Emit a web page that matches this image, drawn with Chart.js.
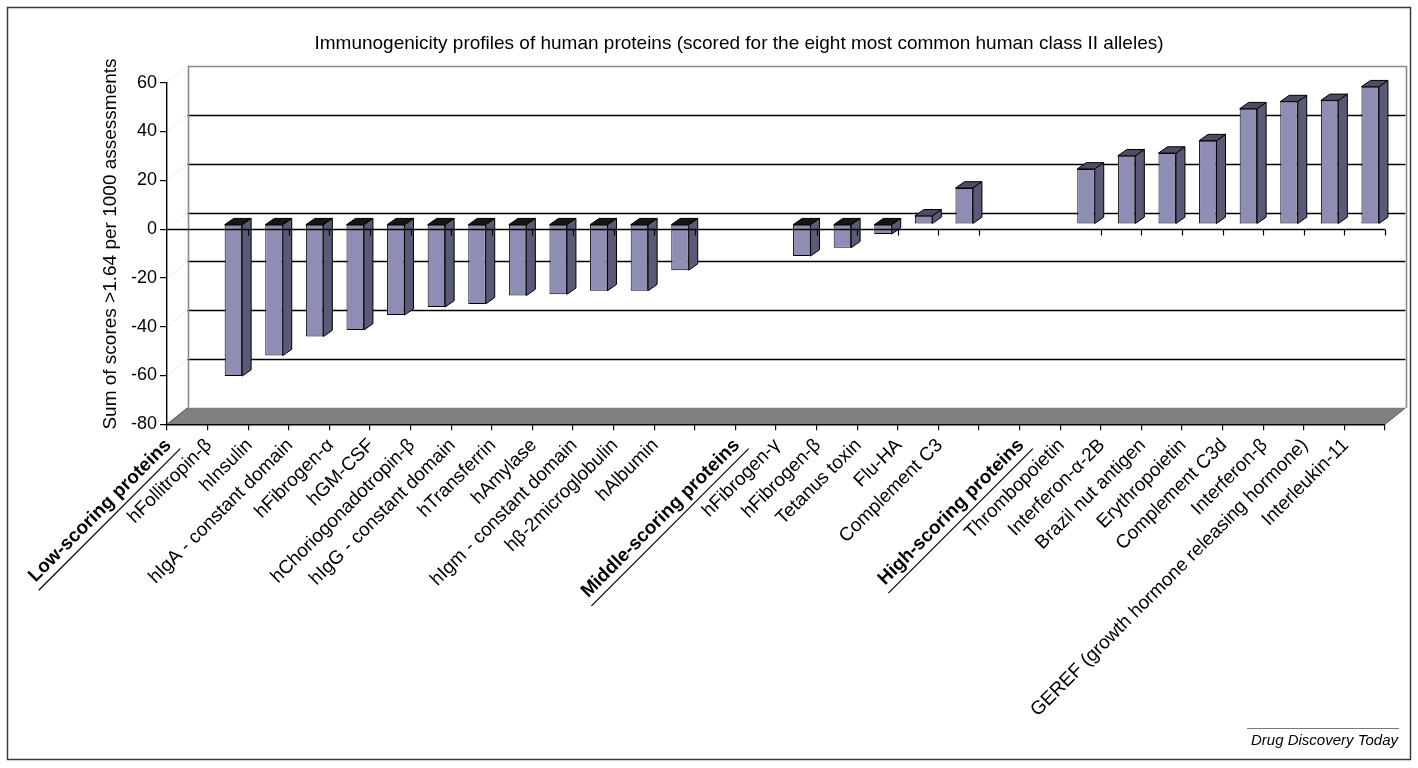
<!DOCTYPE html>
<html>
<head>
<meta charset="utf-8">
<title>Immunogenicity profiles of human proteins</title>
<script src="https://cdn.jsdelivr.net/npm/chart.js@4.4.1/dist/chart.umd.min.js"></script>
<style>
  html, body { margin: 0; padding: 0; background: #ffffff; }
  canvas { display: block; }
</style>
</head>
<body>
<canvas id="chart" width="1418" height="768"></canvas>
<script>
// ---- data -------------------------------------------------------------
const categories = [
  'Low-scoring proteins',
  'hFollitropin-β', 'hInsulin', 'hIgA - constant domain', 'hFibrogen-α', 'hGM-CSF',
  'hChoriogonadotropin-β', 'hIgG - constant domain', 'hTransferrin', 'hAmylase',
  'hIgm - constant domain', 'hβ-2microglobulin', 'hAlbumin',
  '',
  'Middle-scoring proteins',
  'hFibrogen-γ', 'hFibrogen-β', 'Tetanus toxin', 'Flu-HA', 'Complement C3',
  '',
  'High-scoring proteins',
  'Thrombopoietin', 'Interferon-α-2B', 'Brazil nut antigen', 'Erythropoietin',
  'Complement C3d', 'Interferon-β', 'GEREF (growth hormone releasing hormone)', 'Interleukin-11'
];

const lowScores    = [-62.3, -53.9, -46.1, -43.4, -37.3, -34.0, -32.7, -29.3, -28.8, -27.3, -27.3, -18.9];
const middleScores = [-13.1, -9.7, -4.1, 3.4, 14.8];
const highScores   = [22.6, 28.0, 29.1, 34.2, 47.3, 50.2, 50.7, 56.3];

const groupHeaders = ['Low-scoring proteins', 'Middle-scoring proteins', 'High-scoring proteins'];
const yTicks = [-80, -60, -40, -20, 0, 20, 40, 60];

const chartTitle = 'Immunogenicity profiles of human proteins (scored for the eight most common human class II alleles)';
const yTitle = 'Sum of scores >1.64 per 1000 assessments';
const credit = 'Drug Discovery Today';

// one value per category slot; header and spacer slots stay empty
const scores = [
  null, ...lowScores,
  null, null, ...middleScores,
  null, null, ...highScores
];

// ---- styling ----------------------------------------------------------
const FONT = "'Liberation Sans', Arial, Helvetica, sans-serif";
const WALL = { dx: 20.5, dy: -16.5 };     // back wall / floor depth offset
const BAR_PLANE = { dx: 5.5, dy: -5 };    // columns sit part-way into the depth
const BAR_DEPTH = { dx: 9, dy: -6.3 };    // extrusion of each column
const FRONT = '#8E8EB4', SIDE = '#5A5A78', TOP_POS = '#4C4C66', TOP_NEG = '#161616';

const crisp = v => Math.round(v) + 0.5;

function line(ctx, x1, y1, x2, y2) {
  ctx.beginPath(); ctx.moveTo(x1, y1); ctx.lineTo(x2, y2); ctx.stroke();
}
function poly(ctx, pts, fill, stroke) {
  ctx.beginPath();
  ctx.moveTo(pts[0][0], pts[0][1]);
  for (let k = 1; k < pts.length; k++) ctx.lineTo(pts[k][0], pts[k][1]);
  ctx.closePath();
  if (fill) { ctx.fillStyle = fill; ctx.fill(); }
  if (stroke) { ctx.strokeStyle = stroke; ctx.lineWidth = 1; ctx.stroke(); }
}

// back wall, floor and wall gridlines, drawn behind everything
const wallPlugin = {
  id: 'wall',
  beforeDraw(chart) {
    const { ctx, chartArea: a } = chart;
    const ys = chart.scales.y;
    const L = a.left, R = a.right;
    const T = ys.getPixelForValue(yTicks[yTicks.length - 1]);
    const B = ys.getPixelForValue(yTicks[0]);
    ctx.save();
    // faint side-wall lines from the value axis into the depth
    ctx.strokeStyle = '#ececec'; ctx.lineWidth = 1;
    yTicks.forEach(v => {
      const p = ys.getPixelForValue(v);
      line(ctx, L, p, L + WALL.dx, p + WALL.dy);
    });
    // floor
    poly(ctx, [[L, B], [L + WALL.dx, B + WALL.dy], [R + WALL.dx, B + WALL.dy], [R, B]], '#808080', null);
    ctx.strokeStyle = '#555'; ctx.lineWidth = 1;
    line(ctx, L, B, L + WALL.dx, B + WALL.dy);
    line(ctx, R, B, R + WALL.dx, B + WALL.dy);
    // gridlines on the back wall
    ctx.strokeStyle = '#000'; ctx.lineWidth = 1.3;
    yTicks.slice(1, -1).forEach(v => {
      const p = crisp(ys.getPixelForValue(v) + WALL.dy);
      line(ctx, L + WALL.dx, p, R + WALL.dx, p);
    });
    // wall outline
    ctx.strokeStyle = '#8a8a8a'; ctx.lineWidth = 1.6;
    ctx.beginPath();
    ctx.moveTo(crisp(L + WALL.dx), B + WALL.dy);
    ctx.lineTo(crisp(L + WALL.dx), crisp(T + WALL.dy));
    ctx.lineTo(crisp(R + WALL.dx), crisp(T + WALL.dy));
    ctx.lineTo(crisp(R + WALL.dx), B + WALL.dy);
    ctx.stroke();
    ctx.restore();
  },
  beforeDatasetsDraw(chart) {
    chart.ctx.save();
    chart.ctx.translate(BAR_PLANE.dx, BAR_PLANE.dy);
  },
  afterDatasetsDraw(chart) {
    const ctx = chart.ctx;
    const meta = chart.getDatasetMeta(0);
    meta.data.forEach((bar, i) => {
      if (scores[i] == null) return;
      const { x, y, base, width } = bar.getProps(['x', 'y', 'base', 'width'], true);
      const l = x - width / 2, r = x + width / 2;
      const top = Math.min(y, base), bot = Math.max(y, base);
      poly(ctx, [[r, bot], [r, top], [r + BAR_DEPTH.dx, top + BAR_DEPTH.dy], [r + BAR_DEPTH.dx, bot + BAR_DEPTH.dy]], SIDE, '#000');
      poly(ctx, [[l, top], [l + BAR_DEPTH.dx, top + BAR_DEPTH.dy], [r + BAR_DEPTH.dx, top + BAR_DEPTH.dy], [r, top]],
        scores[i] < 0 ? TOP_NEG : TOP_POS, '#000');
    });
    ctx.restore();

    // zero line across the front, with a mark after every column
    const xs = chart.scales.x, ys = chart.scales.y, a = chart.chartArea;
    const y0 = crisp(ys.getPixelForValue(0));
    const step = xs.getPixelForValue(1) - xs.getPixelForValue(0);
    ctx.save();
    ctx.strokeStyle = '#000'; ctx.lineWidth = 1.4;
    line(ctx, a.left, y0, a.right, y0);
    ctx.lineWidth = 1.2;
    scores.forEach((v, i) => {
      if (v == null) return;
      const px = crisp(xs.getPixelForValue(i) + step / 2);
      line(ctx, px, y0, px, y0 + 6);
    });
    ctx.restore();
  }
};

// titles, underlined group headers, credit line and frame
const textPlugin = {
  id: 'texts',
  afterDraw(chart) {
    const ctx = chart.ctx;
    const xs = chart.scales.x;
    ctx.save();

    // underline the group header labels
    xs.getLabelItems().forEach(item => {
      if (!groupHeaders.includes(item.label)) return;
      const o = item.options;
      ctx.save();
      ctx.translate(o.translation[0], o.translation[1]);
      ctx.rotate(o.rotation);
      ctx.font = item.font.string;
      const w = ctx.measureText(item.label).width;
      ctx.strokeStyle = '#000'; ctx.lineWidth = 1.2;
      const uy = item.textOffset + item.font.size * 0.68;
      line(ctx, -w - 3, uy, 4, uy);
      ctx.restore();
    });

    ctx.fillStyle = '#000';
    // chart title
    ctx.font = `19px ${FONT}`;
    ctx.textAlign = 'center'; ctx.textBaseline = 'middle';
    ctx.fillText(chartTitle, 739, 44);

    // value axis title
    ctx.save();
    ctx.translate(111, 244);
    ctx.rotate(-Math.PI / 2);
    ctx.font = `19px ${FONT}`;
    ctx.fillText(yTitle, 0, 0);
    ctx.restore();

    // credit
    ctx.strokeStyle = '#7a7a7a'; ctx.lineWidth = 1.2;
    line(ctx, 1247, 728.5, 1399, 728.5);
    ctx.font = `italic 15px ${FONT}`;
    ctx.textAlign = 'right'; ctx.textBaseline = 'alphabetic';
    ctx.fillText(credit, 1398, 745);

    // outer frame
    ctx.strokeStyle = '#3a3a3a'; ctx.lineWidth = 1.5;
    ctx.strokeRect(7.5, 7.5, 1403, 752);
    ctx.restore();
  }
};

new Chart(document.getElementById('chart'), {
  type: 'bar',
  data: {
    labels: categories,
    datasets: [{
      data: scores,
      backgroundColor: FRONT,
      borderColor: '#000',
      borderWidth: 1,
      borderSkipped: false,
      barPercentage: 0.43,
      categoryPercentage: 1
    }]
  },
  options: {
    responsive: false,
    animation: false,
    events: [],
    layout: { padding: { left: 100, right: 33, top: 82.7, bottom: 0 } },
    plugins: {
      legend: { display: false },
      tooltip: { enabled: false },
      title: { display: false }
    },
    scales: {
      x: {
        offset: true,
        grid: { offset: true, drawOnChartArea: false, tickLength: 6, color: '#000', lineWidth: 1.2 },
        border: { color: '#000', width: 1.4 },
        ticks: {
          autoSkip: false,
          maxRotation: 45,
          minRotation: 45,
          padding: 4,
          labelOffset: -19,
          color: '#000',
          font: c => ({
            family: FONT,
            size: 19,
            weight: groupHeaders.includes(categories[c.index]) ? 'bold' : 'normal'
          })
        },
        afterFit: s => { s.height = 768 - 424.3; }
      },
      y: {
        min: yTicks[0],
        max: yTicks[yTicks.length - 1],
        afterBuildTicks: s => { s.ticks = yTicks.map(v => ({ value: v })); },
        ticks: { padding: 3, color: '#000', font: { family: FONT, size: 18 } },
        grid: { drawOnChartArea: false, tickLength: 7, color: '#000', lineWidth: 1.2 },
        border: { color: '#000', width: 1.4 },
        afterFit: s => { s.width = 67; }
      }
    }
  },
  plugins: [wallPlugin, textPlugin]
});
</script>
</body>
</html>
